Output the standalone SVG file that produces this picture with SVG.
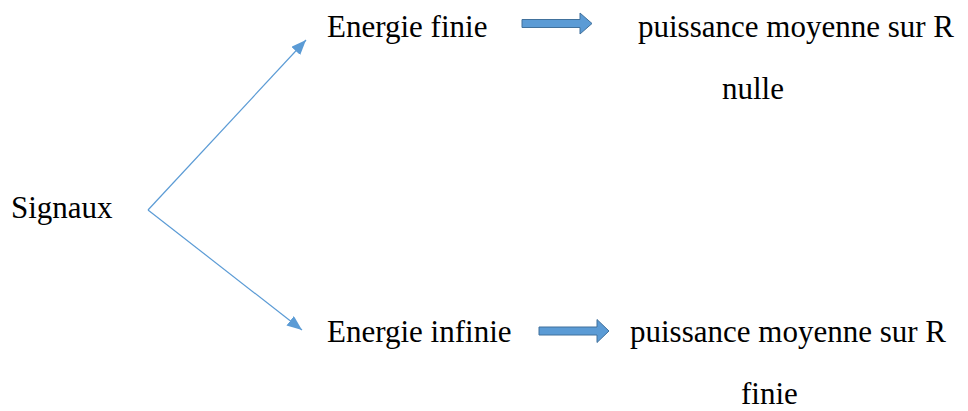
<svg xmlns="http://www.w3.org/2000/svg" width="968" height="411" viewBox="0 0 968 411">
<style>
text{font-family:"Liberation Serif","Times New Roman",serif;font-size:31px;fill:#000}
.ln{stroke:#5B9BD5;stroke-width:1.2;fill:none}
.blk{fill:#5B9BD5;stroke:#41719C;stroke-width:1}
</style>
<defs>
<marker id="ah" markerUnits="userSpaceOnUse" markerWidth="16" markerHeight="14" refX="15" refY="6" orient="auto">
<path d="M0,0 L15,6 L0,12 Z" fill="#5B9BD5"/>
</marker>
</defs>
<rect width="968" height="411" fill="#fff"/>
<g id="connectors">
<line class="ln" x1="148" y1="210" x2="306" y2="40" marker-end="url(#ah)"/>
<line class="ln" x1="148" y1="210" x2="302" y2="330" marker-end="url(#ah)"/>
<polygon class="blk" points="522,19.5 580,19.5 580,13 592,23.5 580,34 580,27.5 522,27.5"/>
<polygon class="blk" points="539,327 597,327 597,319.5 609,331 597,342.5 597,335 539,335"/>
</g>
<g id="signaux"><text x="11" y="218">Signaux</text></g>
<g id="energie-finie"><text x="327" y="37">Energie finie</text></g>
<g id="puissance-nulle"><text x="638" y="37">puissance moyenne sur R</text><text x="722" y="99">nulle</text></g>
<g id="energie-infinie"><text x="327" y="342">Energie infinie</text></g>
<g id="puissance-finie"><text x="630" y="342">puissance moyenne sur R</text><text x="741" y="404">finie</text></g>
</svg>
